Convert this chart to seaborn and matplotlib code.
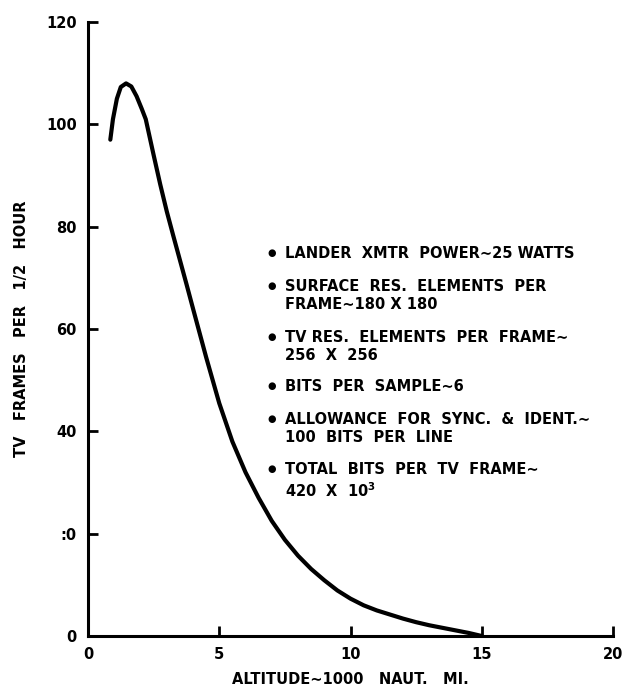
import matplotlib
matplotlib.use("Agg")
import matplotlib.pyplot as plt
import seaborn as sns
import pandas as pd

# Altitude (thousand nautical miles) vs. TV frames transmitted per half hour
altitude = [0.85, 0.95, 1.1, 1.25, 1.45, 1.65, 1.85, 2.05, 2.2, 2.5, 2.75, 3.0,
            3.25, 3.5, 3.75, 4.0, 4.5, 5.0, 5.5, 6.0, 6.5, 7.0, 7.5, 8.0, 8.5,
            9.0, 9.5, 10.0, 10.5, 11.0, 11.5, 12.0, 12.5, 13.0, 13.5, 14.0,
            14.5, 15.0]
frames = [97, 101, 105, 107.3, 108, 107.4, 105.5, 103, 101, 94, 88.3, 83,
          78.2, 73.5, 68.8, 64, 54.5, 45.5, 38, 32, 27, 22.5, 18.8, 15.7, 13.1,
          10.9, 8.9, 7.3, 6.0, 5.0, 4.2, 3.4, 2.7, 2.1, 1.6, 1.1, 0.6, 0.0]

x_ticks = [0, 5, 10, 15, 20]
x_tick_labels = ["0", "5", "10", "15", "20"]
y_ticks = [0, 20, 40, 60, 80, 100, 120]
y_tick_labels = ["0", ":0", "40", "60", "80", "100", "120"]

notes = [
    "LANDER  XMTR  POWER\u223c25 WATTS",
    "SURFACE  RES.  ELEMENTS  PER\nFRAME\u223c180 X 180",
    "TV RES.  ELEMENTS  PER  FRAME\u223c\n256  X  256",
    "BITS  PER  SAMPLE\u223c6",
    "ALLOWANCE  FOR  SYNC.  &  IDENT.\u223c\n100  BITS  PER  LINE",
    "TOTAL  BITS  PER  TV  FRAME\u223c\n420  X  10$^{\\mathbf{3}}$",
]

sns.set_theme(style="ticks")
plt.rcParams["font.family"] = ["DejaVu Sans"]
plt.rcParams["font.weight"] = "bold"

fig = plt.figure(figsize=(6.39, 6.93), dpi=100)
ax = fig.add_axes([88 / 639, 1 - 636 / 693, (613 - 88) / 639, (636 - 22) / 693])

df = pd.DataFrame({"altitude": altitude, "frames": frames})
sns.lineplot(data=df, x="altitude", y="frames", sort=False, color="black",
             linewidth=3.0, ax=ax, clip_on=False, solid_capstyle="round",
             solid_joinstyle="round")

ax.set_xlim(0, 20)
ax.set_ylim(0, 120)
ax.set_xticks(x_ticks)
ax.set_xticklabels(x_tick_labels)
ax.set_yticks(y_ticks)
ax.set_yticklabels(y_tick_labels)
ax.tick_params(axis="both", direction="in", length=7, width=2, colors="black",
               labelsize=10.5, pad=8)
for lab in ax.get_xticklabels() + ax.get_yticklabels():
    lab.set_fontweight("bold")

for side in ("top", "right"):
    ax.spines[side].set_visible(False)
for side in ("left", "bottom"):
    ax.spines[side].set_linewidth(2.2)
    ax.spines[side].set_color("black")

ax.set_xlabel("ALTITUDE\u223c1000   NAUT.   MI.", fontsize=10.5, fontweight="bold",
              labelpad=7, color="black")
ax.set_ylabel("TV   FRAMES   PER   1/2   HOUR", fontsize=10.5, fontweight="bold",
              labelpad=12, color="black")

# bulleted parameter list
note_tops = [253, 286, 337, 386, 419, 469]
for top_px, note in zip(note_tops, notes):
    yf = (636 - top_px) / (636 - 22)
    ax.text((272 - 88) / 525, yf, "\u25CF", transform=ax.transAxes,
            fontsize=7, va="center", ha="center", color="black")
    ax.text((285 - 88) / 525, yf + 0.012, note, transform=ax.transAxes,
            fontsize=10.5, fontweight="bold", va="top", ha="left",
            linespacing=1.3, color="black")

fig.savefig("out.png", dpi=100, facecolor="white")
